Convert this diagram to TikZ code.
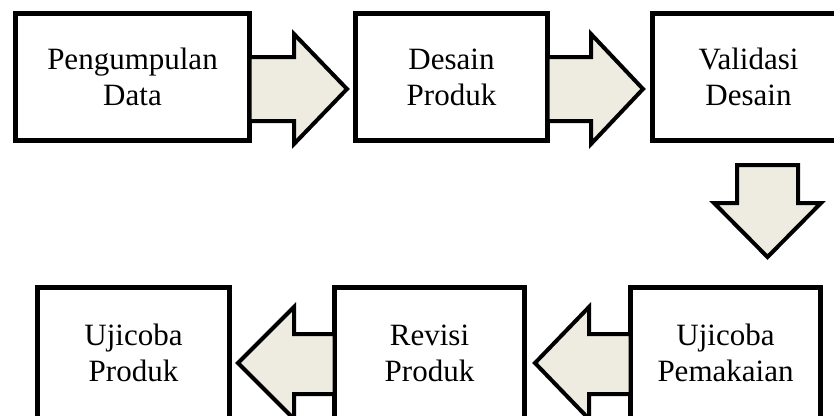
\documentclass[tikz,border=0pt]{standalone}
\usepackage{fontspec}
\setmainfont{Liberation Serif}
\definecolor{arrowfill}{HTML}{EEECE1}
\begin{document}
\begin{tikzpicture}[x=1pt,y=-1pt,
  box/.style={draw=black, line width=4.5pt, fill=white, inner sep=0pt, outer sep=0pt,
    align=center, font=\fontsize{31}{36}\selectfont},
  blockarrow/.style={draw=black, line width=4pt, fill=arrowfill, line join=miter}]
\clip (0,0) rectangle (834,415);
\fill[white] (0,0) rectangle (834,415);
% top row
\node[box, minimum width=234pt, minimum height=127pt] (b1) at (132.5,77) {Pengumpulan\\Data};
\node[box, minimum width=192pt, minimum height=127pt] (b2) at (451.5,77) {Desain\\Produk};
\node[box, minimum width=192pt, minimum height=127pt] (b3) at (748.5,77) {Validasi\\Desain};
% bottom row
\node[box, minimum width=192pt, minimum height=131pt] (b4) at (133.5,353) {Ujicoba\\Produk};
\node[box, minimum width=190pt, minimum height=131pt] (b5) at (429.5,353) {Revisi\\Produk};
\node[box, minimum width=190pt, minimum height=131pt] (b6) at (725.5,353) {Ujicoba\\Pemakaian};
% arrows top row
\draw[blockarrow] (b1.east |- 0,57) -- (294,57) -- (294,34) -- (347,89) -- (294,144) -- (294,121) -- (b1.east |- 0,121) -- cycle;
\draw[blockarrow] (b2.east |- 0,57) -- (591,57) -- (591,34) -- (643,89) -- (591,144) -- (591,121) -- (b2.east |- 0,121) -- cycle;
% down arrow
\draw[blockarrow] (737,165) -- (798,165) -- (798,203) -- (821,203) -- (767.5,257) -- (714,203) -- (737,203) -- cycle;
% bottom row arrows (pointing left)
\draw[blockarrow] (b5.west |- 0,334) -- (294,334) -- (294,307) -- (238,363) -- (294,419) -- (294,394) -- (b5.west |- 0,394) -- cycle;
\draw[blockarrow] (b6.west |- 0,334) -- (589,334) -- (589,307) -- (535,363) -- (589,419) -- (589,394) -- (b6.west |- 0,394) -- cycle;
\end{tikzpicture}
\end{document}
